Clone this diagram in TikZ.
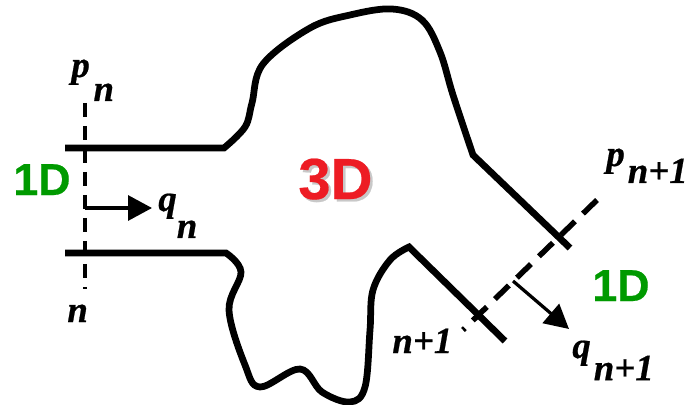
\documentclass[tikz,border=0pt]{standalone}
\usepackage{fontspec}
\setmainfont{Liberation Serif}
\newfontfamily\dimfont{Liberation Sans}
\usetikzlibrary{arrows.meta}
\definecolor{dimgreen}{HTML}{009A00}
\definecolor{dimred}{HTML}{ED1C24}
\definecolor{dimshadow}{HTML}{C8C8C8}
\tikzset{
  wall/.style={line width=0.135cm},
  flux/.style={line width=0.065cm, -{Triangle[length=0.48cm,width=0.5cm]}},
  lbl/.style={anchor=base west, inner sep=0pt, font=\fontsize{21}{21}\selectfont\bfseries\itshape\addfontfeature{FakeBold=0.6}},
  onedim/.style={anchor=base west, inner sep=0pt, text=dimgreen, font=\fontsize{25.5}{25.5}\dimfont\bfseries\addfontfeature{FakeBold=0.4}},
  threedim/.style={anchor=base west, inner sep=0pt, font=\fontsize{33}{33}\dimfont\bfseries\addfontfeature{FakeBold=0.4}}
}
\begin{document}
\begin{tikzpicture}[x=0.02cm,y=-0.02cm]
    \useasboundingbox (0,0) rectangle (689,405);

    % duct walls
    \draw[wall] (65,148) -- (224,148) -- plot[smooth,tension=0.6] coordinates {(224,148) (245,127) (252,103) (263,64) (310,28) (350,15) (392,9) (422,20) (440,52) (453,95) (473,155)} -- (570,248);
    \draw[wall] (65,253) -- (226,253) -- plot[smooth,tension=0.6] coordinates {(226,253) (241,272) (229,310) (245,365) (260,387) (300,369) (322,392) (350,402) (365,387) (370,330) (373,290) (390,260) (409,247)} -- (505,341);

    % cross sections
    \coordinate (leftTop) at (85,103);
    \coordinate (leftEnd) at (85,289);
    \coordinate (rightTop) at (597,200);
    \coordinate (rightEnd) at (463,330);
    \draw[line width=0.09cm, dash pattern=on 0.28cm off 0.18cm] (leftTop) -- (leftEnd);
    \draw[line width=0.11cm, dash pattern=on 0.39cm off 0.224cm] (rightTop) -- (rightEnd);

    % flow arrows
    \coordinate (qnStart) at (85,208);
    \coordinate (qnTip) at (152,208);
    \coordinate (qmStart) at (513,281);
    \coordinate (qmTip) at (569,329);
    \draw[flux] (qnStart) -- (qnTip);
    \draw[flux] (qmStart) -- (qmTip);

    % labels
    \node[lbl] (pn) at (71,77) {p\hspace{0.1em}\raisebox{-0.65em}{n}};
    \node[lbl] (qn) at (158,211) {q\raisebox{-0.73em}{n}};
    \node[lbl] (secn) at (67,322) {n};
    \node[lbl] (pm) at (606,166) {p\hspace{0.08em}\raisebox{-0.46em}{n+1}};
    \node[lbl] (qm) at (572,358) {q\hspace{0.08em}\raisebox{-0.6em}{n+1}};
    \node[lbl] (secm) at (392,353) {n+1};

    \node[onedim] (oneLeft) at (13,195) {1D};
    \node[onedim] (oneRight) at (592,301) {1D};
    \node[threedim, text=dimshadow] (threeShadow) at (300.5,201.5) {3D};
    \node[threedim, text=dimred] (three) at (298,199) {3D};
\end{tikzpicture}
\end{document}
